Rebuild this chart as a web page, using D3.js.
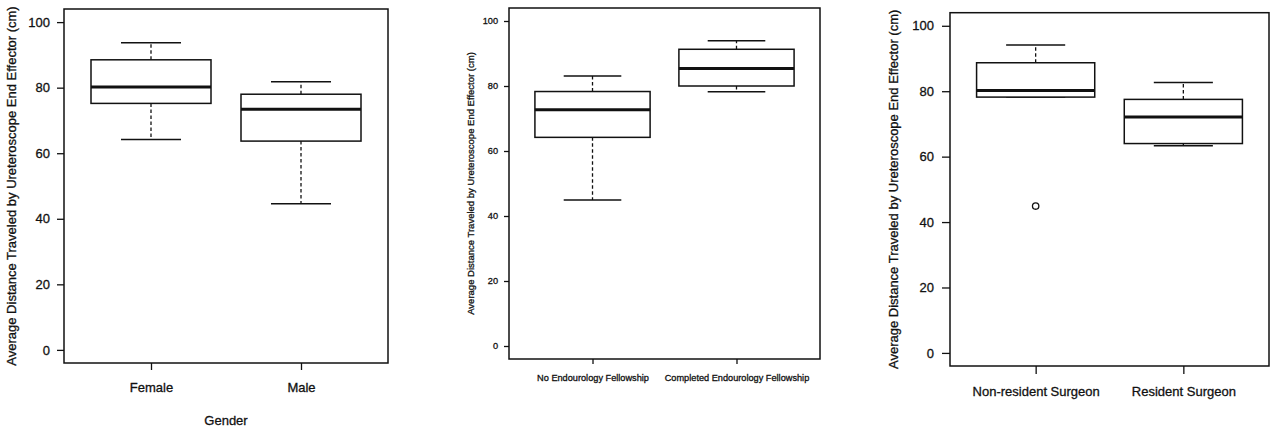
<!DOCTYPE html>
<html>
<head>
<meta charset="utf-8">
<script src="https://cdn.jsdelivr.net/npm/d3@7"></script>
<style>
  body { margin: 0; background: #fff; }
  svg { display: block; font-family: "Liberation Sans", Arial, sans-serif; }
  text { stroke: #111; stroke-width: 0.3px; }
  .tick text { fill: #111; }
  .tick line { stroke: #111; stroke-width: 1.3; }
</style>
</head>
<body>
<div id="chart"></div>
<script>
// boxplot stats per category: [lower whisker, Q1, median, Q3, upper whisker]
const yTicks = [0, 20, 40, 60, 80, 100];
const yTitle = "Average Distance Traveled by Ureteroscope End Effector (cm)";

const genderCats = ["Female", "Male"];
const genderStats = [[64.2, 75.2, 80.2, 88.5, 93.7], [44.6, 63.7, 73.4, 78.0, 81.8]];
const genderOutliers = [[], []];

const fellowCats = ["No Endourology Fellowship", "Completed Endourology Fellowship"];
const fellowStats = [[44.9, 64.2, 72.7, 78.3, 83.1], [78.2, 80.0, 85.4, 91.3, 93.9]];
const fellowOutliers = [[], []];

const surgeonCats = ["Non-resident Surgeon", "Resident Surgeon"];
const surgeonStats = [[78.2, 78.2, 80.2, 88.7, 94.1], [63.3, 64.0, 72.1, 77.5, 82.7]];
const surgeonOutliers = [[44.9], []];

const W = 1272, H = 430;
const ink = "#111";

const svg = d3.select("#chart").append("svg")
  .attr("width", W).attr("height", H)
  .attr("viewBox", `0 0 ${W} ${H}`);

const panels = [
  { cats: genderCats, stats: genderStats, outliers: genderOutliers,
    left: 64, right: 388, top: 9, bottom: 363,
    font: 13, titleFont: 13, tick: 7, yPad: 7, xPad: 13, titleX: 11, xTitle: "Gender", xTitleY: 420 },
  { cats: fellowCats, stats: fellowStats, outliers: fellowOutliers,
    left: 509, right: 820, top: 8, bottom: 359,
    font: 9.2, titleFont: 9.5, tick: 5, yPad: 6, xPad: 10, titleX: 470, xTitle: null },
  { cats: surgeonCats, stats: surgeonStats, outliers: surgeonOutliers,
    left: 950, right: 1269, top: 12.7, bottom: 366,
    font: 13, titleFont: 13, tick: 8, yPad: 8, xPad: 13, titleX: 893, xTitle: null },
];

panels.forEach((p) => {
  const g = svg.append("g");
  // R-style limits: data range plus 4% each side
  const y = d3.scaleLinear().domain([-4, 104]).range([p.bottom, p.top]);
  const x = d3.scaleLinear().domain([0.42, 2.58]).range([p.left, p.right]);
  const half = x(1.4) - x(1);   // boxwex 0.8
  const capHalf = half / 2;     // staplewex 0.5

  g.append("g")
    .attr("transform", `translate(${p.left},0)`)
    .call(d3.axisLeft(y).tickValues(yTicks).tickSize(p.tick).tickPadding(p.yPad))
    .call((a) => a.select(".domain").remove())
    .selectAll("text").style("font-size", `${p.font}px`);

  g.append("g")
    .attr("transform", `translate(0,${p.bottom})`)
    .call(d3.axisBottom(x).tickValues([1, 2]).tickSize(p.tick)
      .tickPadding(p.xPad).tickFormat((d) => p.cats[d - 1]))
    .call((a) => a.select(".domain").remove())
    .selectAll("text").style("font-size", `${p.font}px`);

  g.append("rect")
    .attr("x", p.left).attr("y", p.top)
    .attr("width", p.right - p.left).attr("height", p.bottom - p.top)
    .attr("fill", "none").attr("stroke", ink).attr("stroke-width", 1.5);

  g.append("text")
    .attr("transform", `translate(${p.titleX},${(p.top + p.bottom) / 2}) rotate(-90)`)
    .attr("text-anchor", "middle").attr("dominant-baseline", "central")
    .attr("fill", ink).style("font-size", `${p.titleFont}px`)
    .text(yTitle);

  if (p.xTitle) {
    g.append("text")
      .attr("x", (p.left + p.right) / 2).attr("y", p.xTitleY)
      .attr("text-anchor", "middle").attr("dominant-baseline", "central")
      .attr("fill", ink).style("font-size", `${p.font}px`)
      .text(p.xTitle);
  }

  const boxes = g.selectAll(".box").data(p.stats).join("g").attr("class", "box");

  // dashed whiskers
  boxes.append("line")
    .attr("x1", (d, i) => x(i + 1)).attr("x2", (d, i) => x(i + 1))
    .attr("y1", (d) => y(d[3])).attr("y2", (d) => y(d[4]))
    .attr("stroke", ink).attr("stroke-width", 1.3).attr("stroke-dasharray", "3.5,2.5");
  boxes.append("line")
    .attr("x1", (d, i) => x(i + 1)).attr("x2", (d, i) => x(i + 1))
    .attr("y1", (d) => y(d[1])).attr("y2", (d) => y(d[0]))
    .attr("stroke", ink).attr("stroke-width", 1.3).attr("stroke-dasharray", "3.5,2.5");

  // caps
  [0, 4].forEach((k) => {
    boxes.append("line")
      .attr("x1", (d, i) => x(i + 1) - capHalf).attr("x2", (d, i) => x(i + 1) + capHalf)
      .attr("y1", (d) => y(d[k])).attr("y2", (d) => y(d[k]))
      .attr("stroke", ink).attr("stroke-width", 1.5);
  });

  boxes.append("rect")
    .attr("x", (d, i) => x(i + 1) - half)
    .attr("width", half * 2)
    .attr("y", (d) => y(d[3]))
    .attr("height", (d) => y(d[1]) - y(d[3]))
    .attr("fill", "#fff").attr("stroke", ink).attr("stroke-width", 1.5);

  boxes.append("line")
    .attr("x1", (d, i) => x(i + 1) - half).attr("x2", (d, i) => x(i + 1) + half)
    .attr("y1", (d) => y(d[2])).attr("y2", (d) => y(d[2]))
    .attr("stroke", ink).attr("stroke-width", 3);

  p.outliers.forEach((vals, i) => {
    g.selectAll(null).data(vals).join("circle")
      .attr("cx", x(i + 1)).attr("cy", (v) => y(v))
      .attr("r", 3.2).attr("fill", "none").attr("stroke", ink).attr("stroke-width", 1.3);
  });
});
</script>
</body>
</html>
